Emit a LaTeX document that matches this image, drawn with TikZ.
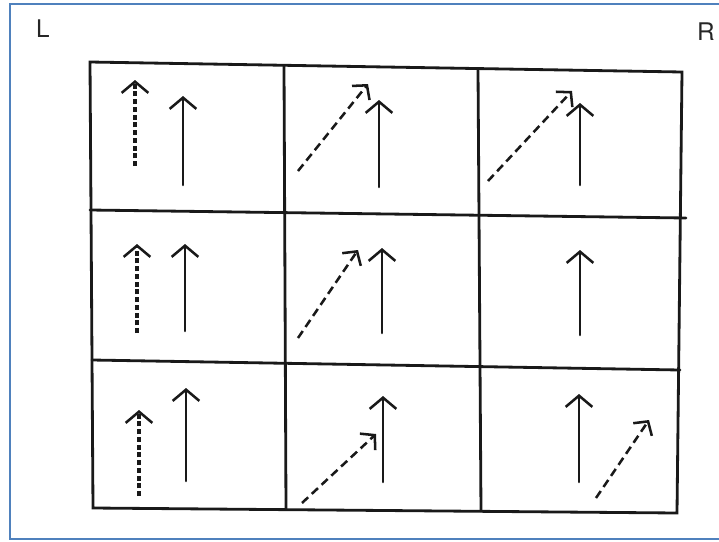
\documentclass[tikz,border=0pt]{standalone}
\usepackage{fontspec}
\setsansfont{TeX Gyre Heros}
\usepackage{tikz}
\usetikzlibrary{arrows.meta, positioning}
\definecolor{frameblue}{RGB}{79,129,189}
\tikzset{
  gridline/.style={draw=black!90, line width=2pt, line cap=round},
  solidarrow/.style={-{Straight Barb[length=8pt, width=19pt, line width=1.8pt]},
                     draw=black!90, line width=1.8pt, line cap=round},
  dashedarrow/.style={-{Straight Barb[length=7pt, width=16pt, line width=1.8pt]},
                      draw=black!90, line width=1.8pt,
                      dash pattern=on 6pt off 3.5pt},
  dottedarrow/.style={-{Straight Barb[length=8pt, width=19pt, line width=1.8pt]},
                      draw=black!90, line width=2.4pt,
                      dash pattern=on 3.5pt off 2pt},
  sidelabel/.style={font=\sffamily\LARGE, text=black!85, inner sep=0pt},
}
\begin{document}
\begin{tikzpicture}[x=0.025cm, y=-0.025cm]
  \useasboundingbox (0,0) rectangle (719,541);
  % Frame
  \draw[frameblue, line width=1.8pt] (725,4) -- (10,4) -- (10,539) -- (725,539);

  % Labels
  \node[sidelabel] (sideL) at (43,29) {L};
  \node[sidelabel] (sideR) at (706,32) {R};

  % Grid corners
  \coordinate (g00) at (90,62);   \coordinate (g01) at (284,66);
  \coordinate (g02) at (478,69);  \coordinate (g03) at (682,72);
  \coordinate (g10) at (90,210);  \coordinate (g13) at (686,218);
  \coordinate (g20) at (92,360);  \coordinate (g23) at (680,370);
  \coordinate (g30) at (93,508);  \coordinate (g31) at (286,509);
  \coordinate (g32) at (481,511); \coordinate (g33) at (677,513);

  % Grid
  \draw[gridline] (g00) -- (g03) -- (g33) -- (g30) -- cycle;
  \draw[gridline] (g10) -- (g13);
  \draw[gridline] (g20) -- (g23);
  \draw[gridline] (g01) -- (g31);
  \draw[gridline] (g02) -- (g32);

  % Row 1
  \draw[dottedarrow] (135,166) -- (135,80);
  \draw[solidarrow] (183,185) -- (183,96);
  \draw[dashedarrow] (298,171) -- (368,84);
  \draw[solidarrow] (379,187) -- (379,100);
  \draw[dashedarrow] (488,181) -- (572,91);
  \draw[solidarrow] (580,185) -- (580,103);

  % Row 2
  \draw[dottedarrow] (137,333) -- (137,244);
  \draw[solidarrow] (185,331) -- (185,244);
  \draw[dashedarrow] (298,338) -- (358,250);
  \draw[solidarrow] (382,333) -- (382,248);
  \draw[solidarrow] (580,335) -- (580,250);

  % Row 3
  \draw[dottedarrow] (139,496) -- (139,410);
  \draw[solidarrow] (186,481) -- (186,388);
  \draw[dashedarrow] (302,503) -- (376,434);
  \draw[solidarrow] (383,482) -- (383,396);
  \draw[solidarrow] (579,482) -- (579,394);
  \draw[dashedarrow] (596,498) -- (649,420);
\end{tikzpicture}
\end{document}
